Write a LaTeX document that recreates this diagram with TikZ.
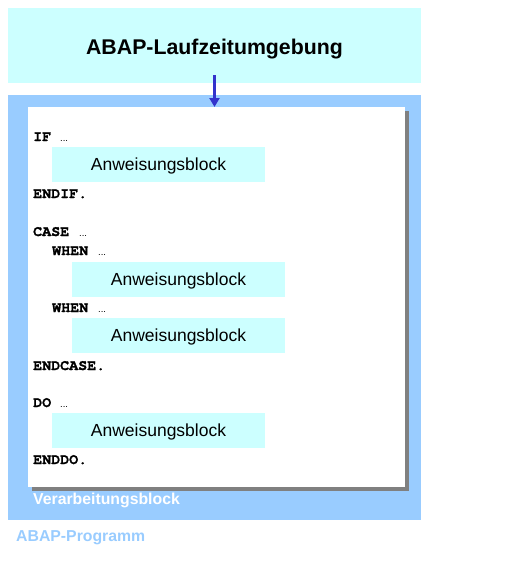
\documentclass[tikz,border=0pt]{standalone}
\usepackage{fontspec}
\setmainfont{Liberation Sans}
\newfontfamily\codefont[BoldFeatures={FakeBold=1.2}]{TeX Gyre Cursor}
\usetikzlibrary{arrows.meta}
\definecolor{lcyan}{HTML}{CCFFFF}
\definecolor{lblue}{HTML}{99CCFF}
\definecolor{arrblue}{HTML}{3333CC}
\definecolor{shadowgray}{HTML}{808080}
\tikzset{
  code/.style={anchor=base west, inner sep=0pt, font=\codefont\bfseries\fontsize{15}{15}\selectfont},
  dots/.style={anchor=base west, inner sep=0pt, font=\fontsize{9.5}{9.5}\selectfont},
  block/.style={fill=lcyan, draw=none, minimum width=213pt, minimum height=35pt, inner sep=0pt, text height=12.6pt, text depth=0pt, font=\fontsize{17.5}{17.5}\selectfont},
}
\begin{document}
\begin{tikzpicture}[x=1pt,y=-1pt]
\useasboundingbox (0,0) rectangle (523,571);
% runtime environment
\fill[lcyan] (8,8) rectangle (421,83);
\node[font=\bfseries\fontsize{21.3}{21.3}\selectfont, inner sep=0pt, anchor=base] (rt) at (214.5,54) {ABAP-Laufzeitumgebung};
\coordinate (rtb) at (214.5,75);
% program
\fill[lblue] (8,95) rectangle (421,520);
\fill[shadowgray] (32,111) rectangle (409,491);
\fill[white] (28,107) rectangle (405,487);
\coordinate (prt) at (214.5,107);
\draw[arrblue, line width=2.7pt, -{Triangle[length=9pt,width=10pt]}] (rtb) -- (prt);
% code
\node[code] (if) at (33,141) {IF};
\node[dots] (ifd) at (60,141) {...};
\node[block] (b1) at (158.5,164.5) {Anweisungsblock};
\node[code] (endif) at (33,198) {ENDIF.};
\node[code] (case) at (33,236) {CASE};
\node[dots] (cased) at (79,236) {...};
\node[code] (when1) at (52,255) {WHEN};
\node[dots] (when1d) at (98,255) {...};
\node[block] (b2) at (178.5,279.5) {Anweisungsblock};
\node[code] (when2) at (52,312) {WHEN};
\node[dots] (when2d) at (98,312) {...};
\node[block] (b3) at (178.5,335.5) {Anweisungsblock};
\node[code] (endcase) at (33,370) {ENDCASE.};
\node[code] (do) at (33,407) {DO};
\node[dots] (dod) at (60,407) {...};
\node[block] (b4) at (158.5,430.5) {Anweisungsblock};
\node[code] (enddo) at (33,464) {ENDDO.};
% labels
\node[anchor=base west, inner sep=0pt, text=white, font=\bfseries\fontsize{15.8}{15.8}\selectfont] (vb) at (33,504) {Verarbeitungsblock};
\node[anchor=base west, inner sep=0pt, text=lblue, font=\bfseries\fontsize{15.8}{15.8}\selectfont] (ap) at (16,541) {ABAP-Programm};
\end{tikzpicture}
\end{document}
